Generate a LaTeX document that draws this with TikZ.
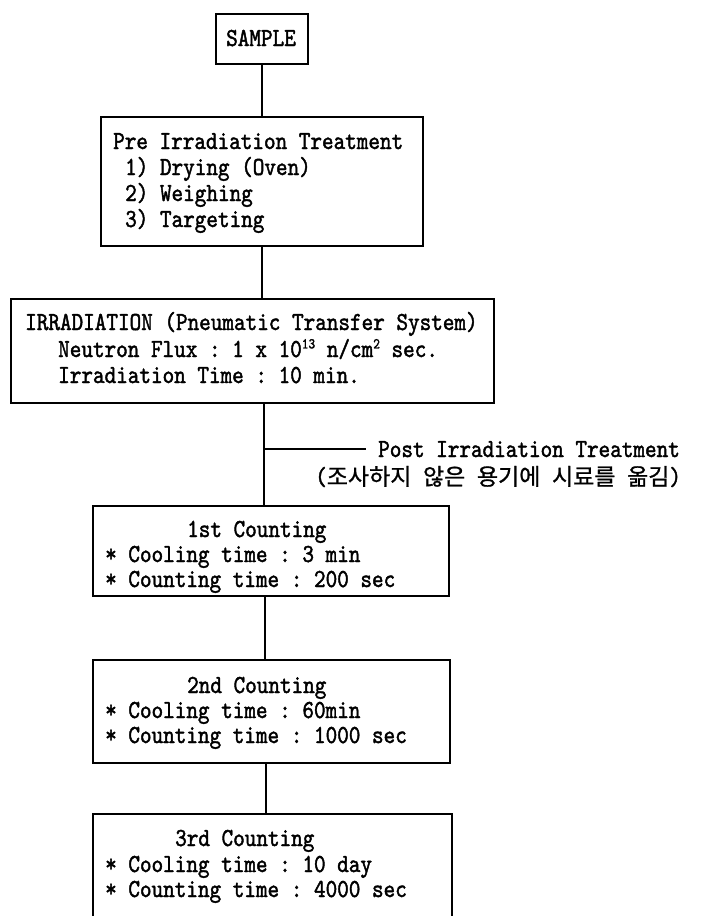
\documentclass[tikz,border=0pt]{standalone}
\usepackage{fontspec}
\setmonofont[FakeStretch=0.85,FakeBold=1.6]{lmmono10-regular.otf}
\newfontfamily\cjk[FakeBold=1]{Noto Sans CJK KR}
\newcommand\korean[1]{{\cjk\fontsize{23}{26}\selectfont #1}}
\newcommand\supnum[1]{\raisebox{0.33em}{\fontsize{15}{15}\selectfont #1}}
\begin{document}
\begin{tikzpicture}[x=1pt,y=-1pt,
  box/.style={draw, line width=1.6pt, inner sep=0pt, anchor=north west},
  txt/.style={anchor=base west, inner sep=0pt, font=\ttfamily\fontsize{26}{28}\selectfont},
  link/.style={line width=1.6pt}]
\useasboundingbox (0,0) rectangle (726,916);
\clip (0,0) rectangle (726,916);

% boxes
\node[box, minimum width=92pt, minimum height=50pt] (sample) at (215,13) {};
\node[box, minimum width=322pt, minimum height=129pt] (pre) at (100,116) {};
\node[box, minimum width=483pt, minimum height=104pt] (irr) at (10,298) {};
\node[box, minimum width=356pt, minimum height=90pt] (c1) at (92,505) {};
\node[box, minimum width=357pt, minimum height=103pt] (c2) at (92,659) {};
\node[box, minimum width=359pt, minimum height=120pt] (c3) at (92,813) {};

% texts
\node[txt, anchor=base] (t0) at (261,46) {SAMPLE};
\node[txt] (p1) at (113,149) {Pre Irradiation Treatment};
\node[txt] (p2) at (125,175) {1) Drying (Oven)};
\node[txt] (p3) at (125,201) {2) Weighing};
\node[txt] (p4) at (125,227) {3) Targeting};
\node[txt] (i1) at (25,330) {IRRADIATION (Pneumatic Transfer System)};
\node[txt] (i2) at (58,357) {Neutron Flux : 1 x 10\supnum{13} n/cm\supnum{2} sec.};
\node[txt] (i3) at (58,383) {Irradiation Time : 10 min.};
\node[txt] (post1) at (378,457) {Post Irradiation Treatment};
\node[txt] (post2) at (315,485) {(\korean{조사하지} \korean{않은} \korean{용기에} \korean{시료를} \korean{옮김})};
\node[txt] (a1) at (187,537) {1st Counting};
\node[txt] (a2) at (105,562) {* Cooling time : 3 min};
\node[txt] (a3) at (105,587) {* Counting time : 200 sec};
\node[txt] (b1) at (187,693) {2nd Counting};
\node[txt] (b2) at (105,718) {* Cooling time : 60min};
\node[txt] (b3) at (105,743) {* Counting time : 1000 sec};
\node[txt] (d1) at (175,846) {3rd Counting};
\node[txt] (d2) at (105,872) {* Cooling time : 10 day};
\node[txt] (d3) at (105,897) {* Counting time : 4000 sec};

% connectors
\coordinate (preout) at ([xshift=162pt]pre.south west);
\coordinate (irrout) at ([xshift=254pt]irr.south west);
\coordinate (c1out) at ([xshift=173pt]c1.south west);
\coordinate (c2out) at ([xshift=174pt]c2.south west);
\draw[link] (sample.south) -- (sample.south |- pre.north);
\draw[link] (preout) -- (preout |- irr.north);
\draw[link] (irrout) -- (irrout |- c1.north);
\draw[link] (irrout |- post1.west) -- ([xshift=-12pt]post1.west);
\draw[link] (c1out) -- (c1out |- c2.north);
\draw[link] (c2out) -- (c2out |- c3.north);
\end{tikzpicture}
\end{document}
